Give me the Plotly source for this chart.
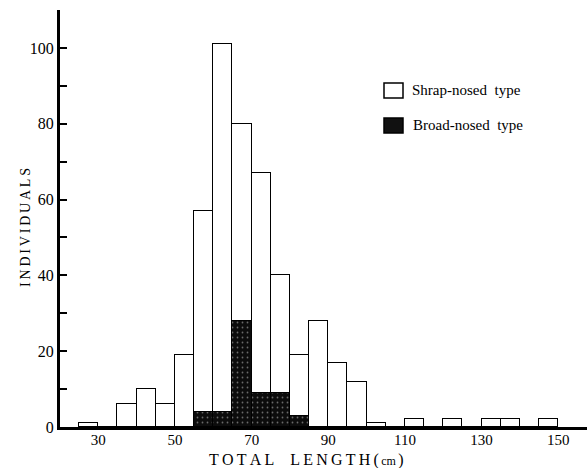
import plotly.graph_objects as go

# Length classes (cm): lower edge of each 5 cm bin
bin_lower = [25, 30, 35, 40, 45, 50, 55, 60, 65, 70, 75, 80, 85, 90, 95,
             100, 105, 110, 115, 120, 125, 130, 135, 140, 145]
# Individuals per bin for each snout type
broad_nosed = [0, 0, 0, 0, 0, 0, 4, 4, 28, 9, 9, 3, 0, 0, 0,
               0, 0, 0, 0, 0, 0, 0, 0, 0, 0]
sharp_nosed = [1, 0, 6, 10, 6, 19, 53, 97, 52, 58, 31, 16, 28, 17, 12,
               1, 0, 2, 0, 2, 0, 2, 2, 0, 2]

x_ticks = [30, 50, 70, 90, 110, 130, 150]
y_ticks = [0, 20, 40, 60, 80, 100]

BIN_W = 5
centers = [b + BIN_W / 2 for b in bin_lower]

SERIF = "Liberation Serif, Times New Roman, serif"

# Plot-area geometry in pixels, used to place the hand-drawn legend and titles
L, T, W, H = 60, 10, 527, 417


def px(x):
    return (x - L) / W


def py(y):
    return (T + H - y) / H


def spaced(s, sep="\u2009"):
    return sep.join(s)


fig = go.Figure()

fig.add_trace(go.Bar(
    x=centers, y=broad_nosed, width=BIN_W, name="Broad-nosed type",
    marker=dict(
        color="#111111",
        line=dict(color="black", width=1.2),
        pattern=dict(shape=".", fillmode="replace", bgcolor="#0c0c0c",
                     fgcolor="#6a6a6a", size=5, solidity=0.1),
    ),
    showlegend=False,
))
fig.add_trace(go.Bar(
    x=centers, y=sharp_nosed, width=BIN_W, name="Shrap-nosed type",
    marker=dict(color="white", line=dict(color="black", width=1.3)),
    showlegend=False,
))

# Legend: swatches and labels
shapes = [
    dict(type="rect", xref="paper", yref="paper",
         x0=px(384), x1=px(403), y0=py(98), y1=py(83),
         line=dict(color="black", width=1.5), fillcolor="white"),
    dict(type="rect", xref="paper", yref="paper",
         x0=px(384), x1=px(403), y0=py(133), y1=py(118),
         line=dict(color="black", width=1.5), fillcolor="#111111"),
]
annotations = [
    dict(text="Shrap-nosed\u2002type", xref="paper", yref="paper",
         x=px(410), y=py(90), xanchor="left", yanchor="middle",
         showarrow=False, font=dict(family=SERIF, size=15, color="black")),
    dict(text="Broad-nosed\u2002type", xref="paper", yref="paper",
         x=px(411), y=py(125), xanchor="left", yanchor="middle",
         showarrow=False, font=dict(family=SERIF, size=15, color="black")),
    dict(text=spaced("TOTAL") + "\u2003" + spaced("LENGTH") + "\u2009("
         + "<span style='font-size:12px'>\u2009cm\u2009</span>)",
         xref="paper", yref="paper", x=px(306), y=py(460),
         xanchor="center", yanchor="middle", showarrow=False,
         font=dict(family=SERIF, size=16, color="black")),
    dict(text=spaced("INDIVIDUALS"), xref="paper", yref="paper",
         x=px(25), y=py(228), xanchor="center", yanchor="middle",
         textangle=-90, showarrow=False,
         font=dict(family=SERIF, size=14, color="black")),
]

fig.update_layout(
    width=587, height=468,
    margin=dict(l=L, r=587 - L - W, t=T, b=468 - T - H),
    paper_bgcolor="white", plot_bgcolor="white",
    barmode="stack", bargap=0,
    shapes=shapes, annotations=annotations,
    font=dict(family=SERIF, size=16, color="black"),
)
fig.update_xaxes(
    range=[20, 157.5], tickvals=x_ticks, ticktext=[str(v) for v in x_ticks],
    showline=True, linecolor="black", linewidth=3, showgrid=False,
    zeroline=False, ticks="", ticklabelstandoff=-3,
    tickfont=dict(family=SERIF, size=15, color="black"),
)
fig.update_yaxes(
    range=[0, 110], tickvals=y_ticks, showline=True, linecolor="black",
    linewidth=3, showgrid=False, zeroline=False,
    ticks="inside", ticklen=7, tickwidth=1.5, tickcolor="black",
    minor=dict(ticks="inside", ticklen=7, tickwidth=1.5, tickcolor="black",
               dtick=10, tick0=0, showgrid=False),
    tickfont=dict(family=SERIF, size=16, color="black"),
)

fig.write_html("out.html")
